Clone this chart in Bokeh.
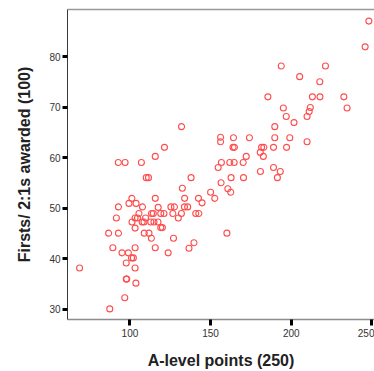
from bokeh.plotting import figure
from bokeh.models import LinearAxis, FixedTicker, Range1d, ColumnDataSource
from bokeh.embed import file_html
from bokeh.resources import INLINE

# A-level points (x) and Firsts/2:1s awarded (y)
a_level = [
    248.1, 245.8, 193.8, 221.2, 205.2, 217.7, 185.5, 213.1, 217.8, 232.6,
    195.1, 211.8, 211.1, 234.6, 196.9, 209.8, 201.7, 189.8, 132.0, 156.2,
    156.2, 164.2, 174.1, 189.8, 199.1, 209.8, 163.9, 164.8, 181.6, 183.0,
    189.0, 197.1, 121.4, 180.8, 172.1, 182.7, 115.7, 92.8, 97.0, 107.1,
    156.7, 161.9, 164.6, 170.2, 154.7, 189.0, 193.2, 180.9, 191.4, 110.1,
    111.5, 137.9, 162.7, 170.4, 156.5, 132.5, 160.7, 150.0, 162.5, 101.2,
    115.7, 133.9, 142.5, 152.6, 99.4, 103.8, 144.7, 92.9, 107.8, 117.5,
    125.4, 127.6, 133.8, 135.8, 105.6, 113.4, 114.5, 119.1, 121.1, 126.6,
    131.9, 140.8, 142.7, 91.6, 103.2, 104.7, 109.7, 130.0, 101.3, 107.6,
    108.7, 112.9, 114.9, 117.4, 103.2, 119.1, 120.1, 86.8, 92.9, 108.9,
    111.8, 160.1, 113.3, 127.0, 139.7, 89.4, 103.2, 115.7, 136.6, 95.1,
    99.0, 123.7, 101.0, 102.1, 97.7, 68.8, 103.2, 97.7, 98.0, 103.7,
    96.8, 87.5,
]
firsts = [
    87.1, 82.0, 78.2, 78.2, 76.1, 75.1, 72.1, 72.1, 72.1, 72.1,
    69.9, 70.0, 69.2, 69.9, 68.2, 68.2, 67.0, 66.2, 66.2, 64.1,
    63.2, 64.0, 64.0, 64.0, 64.0, 63.2, 62.1, 62.1, 62.1, 62.1,
    62.1, 62.1, 62.1, 61.1, 60.3, 60.3, 60.3, 59.1, 59.1, 59.1,
    59.1, 59.1, 59.1, 59.1, 58.1, 58.1, 57.3, 57.3, 56.1, 56.1,
    56.1, 56.1, 56.1, 56.1, 55.1, 54.0, 53.9, 53.2, 53.2, 52.0,
    52.0, 52.0, 52.0, 52.0, 51.0, 51.0, 51.1, 50.3, 50.3, 50.2,
    50.3, 50.3, 50.3, 50.3, 49.0, 49.0, 49.0, 49.0, 49.0, 49.0,
    49.0, 49.0, 49.0, 48.1, 48.1, 48.1, 48.1, 48.1, 47.3, 47.3,
    47.3, 47.3, 47.3, 47.3, 46.1, 46.2, 46.2, 45.1, 45.1, 45.1,
    45.1, 45.1, 44.1, 44.1, 43.2, 42.2, 42.2, 42.2, 42.1, 41.2,
    41.2, 41.2, 40.2, 40.2, 39.2, 38.2, 38.2, 36.0, 36.0, 35.2,
    32.3, 30.1,
]
x_ticks = [100, 150, 200, 250]
y_ticks = [30, 40, 50, 60, 70, 80]
x_title = "A-level points (250)"
y_title = "Firsts/ 2:1s awarded (100)"

src = ColumnDataSource(dict(x=a_level, y=firsts))

p = figure(width=374, height=371, output_backend="svg", toolbar_location=None,
           x_range=Range1d(61.3, 251.6), y_range=Range1d(28.0, 89.4),
           min_border_left=67, min_border_right=0, min_border_top=9,
           min_border_bottom=51)
p.xgrid.visible = False
p.ygrid.visible = False
p.outline_line_color = None
p.background_fill_color = "white"
p.border_fill_color = "white"

FONT = "Liberation Sans"

xa = p.xaxis[0]
xa.ticker = FixedTicker(ticks=x_ticks)
xa.minor_tick_line_color = None
xa.major_tick_in = 0
xa.major_tick_out = 6
xa.major_tick_line_width = 3
xa.major_tick_line_color = "black"
xa.axis_line_color = "#8c8c8c"
xa.axis_line_width = 1.5
xa.major_label_text_font = FONT
xa.major_label_text_font_size = "10px"
xa.major_label_text_color = "#333333"
xa.major_label_standoff = 3
xa.axis_label = x_title
xa.axis_label_text_font = FONT
xa.axis_label_text_font_style = "bold"
xa.axis_label_text_font_size = "16px"
xa.axis_label_text_color = "#222222"
xa.axis_label_standoff = 12

ya = p.yaxis[0]
ya.ticker = FixedTicker(ticks=y_ticks)
ya.minor_tick_line_color = None
ya.major_tick_in = 0
ya.major_tick_out = 5
ya.major_tick_line_width = 3
ya.major_tick_line_color = "black"
ya.axis_line_color = "#3a3a3a"
ya.axis_line_width = 1
ya.major_label_text_font = FONT
ya.major_label_text_font_size = "10px"
ya.major_label_text_color = "#333333"
ya.major_label_standoff = 2
ya.axis_label = y_title
ya.axis_label_text_font = FONT
ya.axis_label_text_font_style = "bold"
ya.axis_label_text_font_size = "16px"
ya.axis_label_text_color = "#222222"
ya.axis_label_standoff = 13

top = LinearAxis(ticker=FixedTicker(ticks=[]), axis_line_color="#999999",
                 axis_line_width=1.5, major_tick_line_color=None,
                 minor_tick_line_color=None, major_label_text_font_size="0px")
p.add_layout(top, "above")

p.scatter("x", "y", source=src, marker="circle", size=6, line_width=1.1,
          line_color="#ff4d4d", fill_color=None)

open("out.html", "w").write(file_html(p, INLINE))
